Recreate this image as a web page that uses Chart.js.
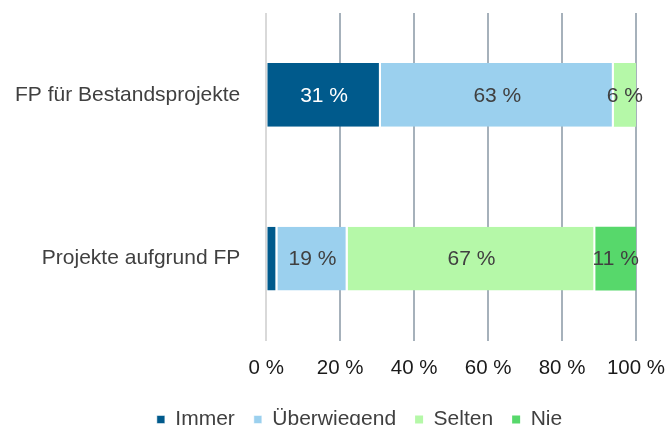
<!DOCTYPE html>
<html>
<head>
<meta charset="utf-8">
<script src="https://cdn.jsdelivr.net/npm/chart.js@4"></script>
<style>
  html, body { margin: 0; padding: 0; background: #fff; overflow: hidden; }
  #wrap { width: 670px; height: 440px; position: relative; }
</style>
</head>
<body>
<div id="wrap"><canvas id="myChart"></canvas></div>
<script>
// Chart data
const categories = ['FP für Bestandsprojekte', 'Projekte aufgrund FP']
const seriesNames = ['Immer', 'Überwiegend', 'Selten', 'Nie']
const immer = [31, 3]
const ueberwiegend = [63, 19]
const selten = [6, 67]
const nie = [0, 11]
const xTicks = [0, 20, 40, 60, 80, 100]

const colors = ['#005a8c', '#9bd0ee', '#b5f8a8', '#57d86b']
const labelColors = ['#ffffff', '#404040', '#404040', '#404040']
const FONT = '"Liberation Sans", Arial, sans-serif'

const seriesValues = [immer, ueberwiegend, selten, nie]

// white gap after every segment except the last one in the row
function segmentBorder(ctx) {
    let row = ctx.dataIndex
    let last = true
    for (let d = ctx.datasetIndex + 1; d < seriesValues.length; d++) {
        if (seriesValues[d][row] > 0) last = false
    }
    return { top: 0, bottom: 0, left: 0, right: last ? 0 : 2 }
}

// draws the "31 %" style labels in the middle of each segment
const segmentLabels = {
    id: 'segmentLabels',
    afterDatasetsDraw(chart) {
        let c = chart.ctx
        c.save()
        c.font = '21px ' + FONT
        c.textAlign = 'center'
        c.textBaseline = 'middle'
        chart.data.datasets.forEach((ds, i) => {
            let meta = chart.getDatasetMeta(i)
            meta.data.forEach((bar, j) => {
                let v = ds.data[j]
                if (v < 5) return
                let p = bar.getCenterPoint()
                c.fillStyle = labelColors[i]
                c.fillText(v + ' %', p.x, p.y + 1)
            })
        })
        c.restore()
    }
}

// legend in the original sits a bit right of the canvas centre
const shiftLegend = {
    id: 'shiftLegend',
    afterLayout(chart) {
        chart.legend.left += 34
        chart.legend.right += 34
    }
}

// keep the axes from pushing the plot area around
function noAxisPadding(axis) {
    axis.paddingTop = 0
    axis.paddingBottom = 0
    axis.paddingLeft = 0
    axis.paddingRight = 0
}

let ctx = document.getElementById('myChart')
let myChart = new Chart(ctx, {
    type: 'bar',
    data: {
        labels: categories,
        datasets: seriesNames.map((name, i) => ({
            label: name,
            data: seriesValues[i],
            backgroundColor: colors[i],
            borderColor: '#ffffff',
            borderWidth: segmentBorder,
            borderSkipped: false,
            barPercentage: 0.39,
            categoryPercentage: 1
        }))
    },
    plugins: [segmentLabels, shiftLegend],
    options: {
        indexAxis: 'y',
        responsive: true,
        maintainAspectRatio: false,
        animation: false,
        layout: { padding: { top: 13, right: 34, left: 15, bottom: 0 } },
        scales: {
            x: {
                stacked: true,
                min: 0,
                max: 100,
                afterBuildTicks: (axis) => { axis.ticks = xTicks.map(v => ({ value: v })) },
                afterFit: (axis) => {
                    noAxisPadding(axis)
                    axis.height = 49.5
                },
                border: { display: false },
                grid: {
                    drawTicks: false,
                    lineWidth: 2,
                    color: (c) => c.index === 0 ? '#d9d9d9' : '#a6b1bb'
                },
                ticks: {
                    padding: 16,
                    color: '#1a1a1a',
                    font: { family: FONT, size: 20.5 },
                    callback: (v) => v + ' %'
                }
            },
            y: {
                stacked: true,
                afterFit: (axis) => {
                    noAxisPadding(axis)
                    axis.width -= 26
                },
                border: { display: false },
                grid: { display: false, drawTicks: false },
                ticks: {
                    padding: 26,
                    color: '#404040',
                    font: { family: FONT, size: 21 }
                }
            }
        },
        plugins: {
            tooltip: { enabled: false },
            legend: {
                position: 'bottom',
                labels: {
                    boxWidth: 8,
                    boxHeight: 8,
                    padding: 19,
                    color: '#404040',
                    font: { family: FONT, size: 21 }
                }
            }
        }
    }
});
</script>
</body>
</html>
